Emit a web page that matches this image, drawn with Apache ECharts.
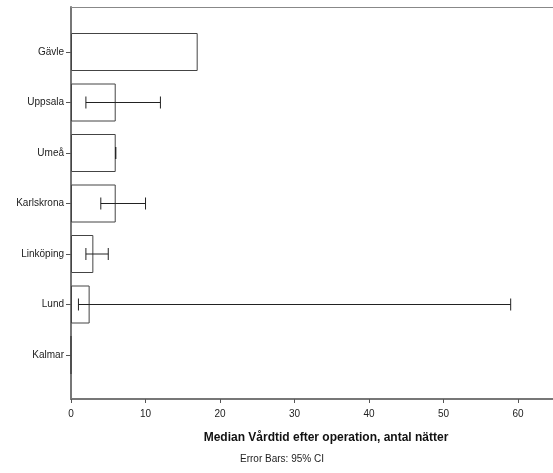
<!DOCTYPE html>
<html>
<head>
<meta charset="utf-8">
<script src="https://cdn.jsdelivr.net/npm/echarts@6/dist/echarts.min.js"></script>
<style>html,body{margin:0;padding:0;background:#fff;}#c{width:553px;height:473px;}</style>
</head>
<body>
<div id="c"></div>
<script>
const categories = ['Gävle', 'Uppsala', 'Umeå', 'Karlskrona', 'Linköping', 'Lund', 'Kalmar'];
const medians = [17, 6, 6, 6, 3, 2.5, 0];
const ciLow = [null, 2, 6, 4, 2, 1, null];
const ciHigh = [null, 12, 6, 10, 5, 59, null];
const xMin = 0, xMax = 64.68, xInterval = 10;
const axisTitle = 'Median Vårdtid efter operation, antal nätter';
const footnote = 'Error Bars: 95% CI';

const errData = [];
categories.forEach((c, i) => {
  if (ciLow[i] !== null && ciHigh[i] !== null) errData.push([i, ciLow[i], ciHigh[i]]);
});

const font = 'Liberation Sans, Arial, sans-serif';
const chart = echarts.init(document.getElementById('c'), null, {renderer: 'canvas'});
chart.setOption({
  animation: false,
  backgroundColor: '#fff',
  textStyle: {fontFamily: font},
  title: [
    {text: axisTitle, left: 321, top: 427, textAlign: 'center',
     textStyle: {fontSize: 12, fontWeight: 'bold', color: '#111', fontFamily: font}},
    {text: footnote, left: 277, top: 449, textAlign: 'center',
     textStyle: {fontSize: 10, fontWeight: 'normal', color: '#222', fontFamily: font}}
  ],
  grid: [
    {left: 71, right: -2, top: 7, bottom: 74},
    {left: 71, right: -2, top: 26.75, bottom: 92.75}
  ],
  xAxis: [
    {gridIndex: 0, type: 'value', position: 'bottom', min: xMin, max: xMax, interval: xInterval,
     axisLine: {show: true, onZero: false, lineStyle: {color: '#777', width: 2}},
     axisTick: {show: true, length: 4, lineStyle: {color: '#555'}},
     axisLabel: {fontSize: 10, color: '#222', margin: 10, showMaxLabel: false, fontFamily: font},
     splitLine: {show: false}},
    {gridIndex: 0, type: 'value', position: 'top', min: xMin, max: xMax, interval: xInterval,
     axisLine: {show: true, onZero: false, lineStyle: {color: '#888', width: 1}},
     axisTick: {show: false}, axisLabel: {show: false}, splitLine: {show: false}},
    {gridIndex: 1, type: 'value', min: xMin, max: xMax, interval: xInterval, show: false,
     splitLine: {show: false}}
  ],
  yAxis: [
    {gridIndex: 0, type: 'value', min: 0, max: 1,
     axisLine: {show: true, onZero: false, lineStyle: {color: '#777', width: 2}},
     axisTick: {show: false}, axisLabel: {show: false}, splitLine: {show: false}},
    {gridIndex: 1, type: 'category', data: categories, inverse: true,
     axisLine: {show: false},
     axisTick: {show: true, alignWithLabel: true, length: 5, lineStyle: {color: '#555'}},
     axisLabel: {fontSize: 10, color: '#222', margin: 7, fontFamily: font},
     splitLine: {show: false}}
  ],
  series: [
    {type: 'bar', xAxisIndex: 2, yAxisIndex: 1, data: medians, barWidth: 38,
     itemStyle: {color: '#fff', borderColor: '#444', borderWidth: 1}},
    {type: 'custom', xAxisIndex: 2, yAxisIndex: 1, data: errData,
     encode: {x: [1, 2], y: 0},
     z: 5,
     renderItem: function (params, api) {
       const idx = api.value(0);
       const p1 = api.coord([api.value(1), idx]);
       const p2 = api.coord([api.value(2), idx]);
       const cap = 6;
       const style = {stroke: '#222', lineWidth: 1};
       return {type: 'group', children: [
         {type: 'line', shape: {x1: p1[0], y1: p1[1], x2: p2[0], y2: p2[1]}, style: style},
         {type: 'line', shape: {x1: p1[0], y1: p1[1] - cap, x2: p1[0], y2: p1[1] + cap}, style: style},
         {type: 'line', shape: {x1: p2[0], y1: p2[1] - cap, x2: p2[0], y2: p2[1] + cap}, style: style}
       ]};
     }}
  ]
});
</script>
</body>
</html>
